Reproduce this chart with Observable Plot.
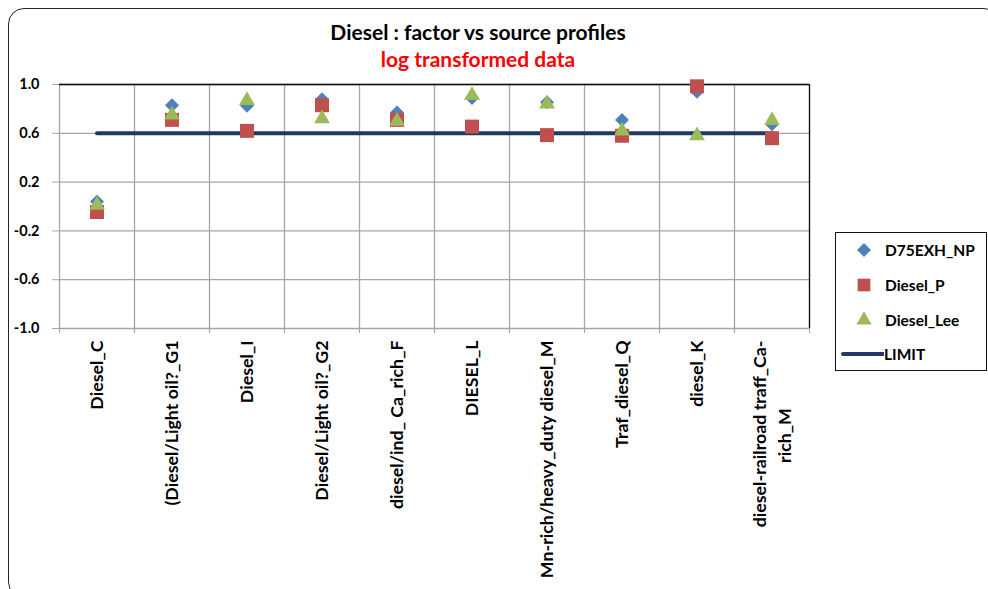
<!DOCTYPE html>
<html>
<head>
<meta charset="utf-8">
<script src="https://cdn.jsdelivr.net/npm/d3@7"></script>
<script src="https://cdn.jsdelivr.net/npm/@observablehq/plot@0.6"></script>
<style>
  html, body { margin: 0; padding: 0; background: #fff; }
  #wrap { position: relative; width: 988px; height: 589px; overflow: hidden; font-family: Lato, "Open Sans", sans-serif; color: #000; }
  #frame { position: absolute; left: 8px; top: 8px; width: 992px; height: 590px; border: 1.5px solid #222; border-radius: 16px; box-sizing: border-box; pointer-events: none; }
  #chart { position: absolute; left: 0; top: 0; }
  .title { position: absolute; left: 0; width: 956px; text-align: center; font-weight: bold; white-space: nowrap; }
  #t1 { top: 19px; font-size: 21px; color: #000; }
  #t2 { top: 46px; font-size: 21px; color: #ff0000; }
  #legend { position: absolute; left: 835px; top: 232px; width: 152px; height: 139px; border: 1px solid #111; box-sizing: border-box; background: #fff; }
  .item { position: absolute; left: 0; height: 20px; display: flex; align-items: center; font-weight: bold; font-size: 15.5px; }
  .item svg { display: block; flex: none; }
</style>
</head>
<body>
<div id="wrap">
  <div id="chart"></div>
  <div class="title" id="t1">Diesel : factor vs source profiles</div>
  <div class="title" id="t2">log transformed data</div>
  <div id="legend"></div>
  <div id="frame"></div>
</div>
<script>
// ---- data ----
const categories = [
  "Diesel_C",
  "(Diesel/Light oil?_G1",
  "Diesel_I",
  "Diesel/Light oil?_G2",
  "diesel/ind_ Ca_rich_F",
  "DIESEL_L",
  "Mn-rich/heavy_duty diesel_M",
  "Traf_diesel_Q",
  "diesel_K",
  "diesel-railroad traff_Ca-\nrich_M"
];
const seriesNames = ["D75EXH_NP", "Diesel_P", "Diesel_Lee", "LIMIT"];
const d75exhNP  = [0.04, 0.83, 0.825, 0.88, 0.77, 0.89, 0.855, 0.71, 0.94, 0.675];
const dieselP   = [-0.045, 0.71, 0.62, 0.83, 0.71, 0.655, 0.585, 0.58, 0.985, 0.56];
const dieselLee = [0.01, 0.75, 0.87, 0.72, 0.70, 0.91, 0.84, 0.62, 0.58, 0.705];
const limitValues = [0.6, 0.6, 0.6, 0.6, 0.6, 0.6, 0.6, 0.6, 0.6, 0.6];
const yTicks = [-1.0, -0.6, -0.2, 0.2, 0.6, 1.0];

const colors = { D75EXH_NP: "#4f81bd", Diesel_P: "#c0504d", Diesel_Lee: "#9bbb59", LIMIT: "#1f3864" };

// ---- tables ----
const idx = d3.range(categories.length);
const single = idx.filter(i => !categories[i].includes("\n"));
const multi = idx.filter(i => categories[i].includes("\n"));
const boundaries = d3.range(categories.length + 1).map(i => i - 0.5);
const rows = (vals) => idx.map(i => ({ i, v: vals[i] }));

const grid = "#a6a6a6";
const labelStyle = { label: null, tickSize: 0, tickRotate: -90, fontSize: 17.8, fontWeight: "bold", fill: "#000" };

const chart = Plot.plot({
  width: 988,
  height: 589,
  marginTop: 84,
  marginLeft: 59,
  marginRight: 179,
  marginBottom: 261,
  style: { fontFamily: "Lato, 'Open Sans', sans-serif", fontWeight: "bold", color: "#000", background: "transparent", overflow: "visible" },
  x: { domain: [-0.5, categories.length - 0.5], axis: null },
  y: { domain: [-1, 1], axis: null },
  marks: [
    Plot.ruleY(yTicks, { stroke: grid, strokeWidth: 1.3 }),
    Plot.ruleX(boundaries, { stroke: grid, strokeWidth: 1.3 }),
    Plot.ruleY([1], { stroke: "#111", strokeWidth: 1.3 }),
    Plot.ruleX([categories.length - 0.5], { stroke: "#111", strokeWidth: 1.3 }),
    Plot.axisY({ ticks: yTicks, label: null, tickFormat: d => d.toFixed(1), tickSize: 7, tickPadding: 13, stroke: grid, fontSize: 14.5, fontWeight: "bold", fill: "#000" }),
    Plot.axisX({ ticks: boundaries, label: null, tickSize: 5, tickFormat: () => "", stroke: grid }),
    Plot.axisX({ ...labelStyle, ticks: single, tickPadding: 12, textAnchor: "end", tickFormat: i => categories[i] }),
    Plot.axisX({ ...labelStyle, ticks: multi, tickPadding: 12, textAnchor: "end", dx: -12, tickFormat: i => categories[i].split("\n")[0] }),
    Plot.axisX({ ...labelStyle, ticks: multi, tickPadding: 107, textAnchor: "middle", dx: 13, tickFormat: i => categories[i].split("\n")[1] }),
    Plot.line(rows(limitValues), { x: "i", y: "v", stroke: colors.LIMIT, strokeWidth: 4 }),
    Plot.dot(rows(d75exhNP), { x: "i", y: "v", symbol: "diamond2", r: 6.3, fill: colors.D75EXH_NP, stroke: "none" }),
    Plot.dot(rows(dieselP), { x: "i", y: "v", symbol: "square", r: 7.9, fill: colors.Diesel_P, stroke: "none" }),
    Plot.dot(rows(dieselLee), { x: "i", y: "v", symbol: "triangle", r: 5.9, fill: colors.Diesel_Lee, stroke: "none" })
  ]
});
document.getElementById("chart").appendChild(chart);

// ---- legend ----
const legend = document.getElementById("legend");
const symbolFor = {
  D75EXH_NP: d3.symbol(d3.symbolDiamond2, 125)(),
  Diesel_P: d3.symbol(d3.symbolSquare, 160)(),
  Diesel_Lee: d3.symbol(d3.symbolTriangle, 100)()
};
const legendTops = [7, 42, 77, 111];
seriesNames.forEach((name, k) => {
  const item = document.createElement("div");
  item.className = "item";
  item.style.top = legendTops[k] + "px";
  let icon;
  if (name === "LIMIT") {
    icon = `<svg width="48" height="20"><line x1="7" y1="10" x2="47" y2="10" stroke="${colors.LIMIT}" stroke-width="4" stroke-linecap="round"/></svg>`;
  } else {
    icon = `<svg width="48" height="20"><path transform="translate(28,10)" d="${symbolFor[name]}" fill="${colors[name]}"/></svg>`;
  }
  item.innerHTML = icon + `<span style="margin-left:${name === "LIMIT" ? 0 : 1}px">${name}</span>`;
  legend.appendChild(item);
});
</script>
</body>
</html>
